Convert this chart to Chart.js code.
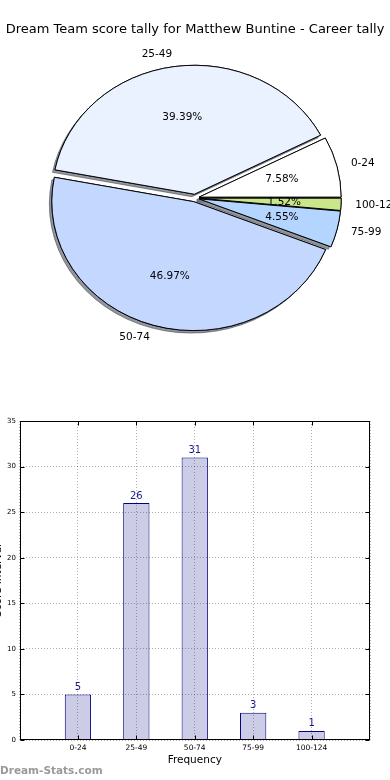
<!DOCTYPE html>
<html><head><meta charset="utf-8">
<script src="https://cdn.jsdelivr.net/npm/chart.js@4.4.1/dist/chart.umd.min.js"></script>
<style>
html,body{margin:0;padding:0;background:#fff;width:390px;height:780px;overflow:hidden;}
body{position:relative;}
#pieWrap{position:absolute;left:0;top:0;width:390px;height:395px;}
#barWrap{position:absolute;left:-10px;top:400px;width:400px;height:380px;}
#wm{position:absolute;left:0;top:764px;font:bold 10.5px 'DejaVu Sans',sans-serif;line-height:12px;color:#9a9a9a;white-space:nowrap;}
</style></head><body>
<div id="pieWrap"><canvas id="pie" width="390" height="395"></canvas></div>
<div id="barWrap"><canvas id="bar" width="400" height="380"></canvas></div>
<div id="wm">Dream-Stats.com</div>
<script>
// ---- data ----
const titleText = 'Dream Team score tally for Matthew Buntine - Career tally';
const categories = ['0-24', '25-49', '50-74', '75-99', '100-124'];
const counts = [5, 26, 31, 3, 1];
const pieColors = ['#ffffff', '#ebf2ff', '#c4d8ff', '#b4d5ff', '#c9e68a'];
const explodePx = [4.2, 4.2, 4.2, 4.2, 4.2];
const yTicks = [0, 5, 10, 15, 20, 25, 30, 35];
const xAxisTitle = 'Frequency';
const yAxisTitle = 'Score Interval';

const total = counts.reduce((a, b) => a + b, 0);
const pctLabels = counts.map(v => (v / total * 100).toFixed(2) + '%');

// ---- pie (elliptical, exploded, shadowed, like the reference) ----
const K = 0.908;               // vertical squash of the pie
const order = [4, 3, 2, 1, 0]; // clockwise from 3 o'clock
const FONT = '"DejaVu Sans", sans-serif';

const piePlugin = {
  id: 'pieDraw',
  beforeDatasetsDraw(chart) {
    const ctx = chart.ctx;
    const arcs = chart.getDatasetMeta(0).data;
    const pass = (shadow) => {
      arcs.forEach((arc, i) => {
        const d = explodePx[order[i]];
        const mid = (arc.startAngle + arc.endAngle) / 2;
        ctx.save();
        if (shadow) {
          ctx.shadowColor = 'rgba(40,45,60,0.5)';
          ctx.shadowOffsetX = -2.5;
          ctx.shadowOffsetY = 2.5;
          ctx.shadowBlur = 0;
        }
        ctx.translate(arc.x, arc.y);
        ctx.scale(1, K);
        ctx.translate(-arc.x, -arc.y);
        ctx.translate(Math.cos(mid) * d, Math.sin(mid) * d);
        arc.draw(ctx);
        ctx.restore();
      });
    };
    pass(true);
    pass(false);
    return false;
  },
  afterDraw(chart) {
    const ctx = chart.ctx;
    const arcs = chart.getDatasetMeta(0).data;
    ctx.save();
    ctx.fillStyle = '#000';
    ctx.font = '10.5px ' + FONT;
    ctx.textBaseline = 'middle';
    arcs.forEach((arc, i) => {
      const src = order[i];
      const d = explodePx[src];
      const mid = (arc.startAngle + arc.endAngle) / 2;
      const r = arc.outerRadius;
      const c = Math.cos(mid), s = Math.sin(mid);
      ctx.textAlign = c > 0 ? 'left' : 'right';
      ctx.fillText(categories[src], arc.x + (d + 1.1 * r) * c, arc.y + K * (d + 1.1 * r) * s);
      ctx.textAlign = 'center';
      ctx.fillText(pctLabels[src], arc.x + (d + 0.6 * r) * c, arc.y + K * (d + 0.6 * r) * s);
    });
    ctx.font = '13px ' + FONT;
    ctx.textAlign = 'center';
    ctx.fillText(titleText, 195, 30);
    ctx.restore();
  }
};

new Chart(document.getElementById('pie'), {
  type: 'pie',
  data: {
    labels: order.map(i => categories[i]),
    datasets: [{
      data: order.map(i => counts[i]),
      backgroundColor: order.map(i => pieColors[i]),
      borderColor: '#000',
      borderWidth: 1
    }]
  },
  options: {
    responsive: false,
    animation: false,
    rotation: 90,
    radius: 142,
    layout: { padding: { left: 0, right: 0, top: 1, bottom: 0 } },
    plugins: { legend: { display: false }, tooltip: { enabled: false }, title: { display: false } }
  },
  plugins: [piePlugin]
});

// ---- bar chart ----
const barLabels = [''].concat(categories, ['']);
const barValues = [null].concat(counts, [null]);

const barPlugin = {
  id: 'barExtras',
  afterDatasetsDraw(chart) {
    const ctx = chart.ctx;
    const meta = chart.getDatasetMeta(0);
    ctx.save();
    ctx.fillStyle = '#1a1a8c';
    ctx.font = '10px ' + FONT;
    ctx.textAlign = 'center';
    ctx.textBaseline = 'bottom';
    meta.data.forEach((bar, i) => {
      const v = barValues[i];
      if (v === null) return;
      ctx.fillText(String(v), bar.x, bar.y - 2);
    });
    ctx.restore();
  },
  afterDraw(chart) {
    const ctx = chart.ctx;
    const a = chart.chartArea;
    const xs = chart.scales.x, ys = chart.scales.y;
    ctx.save();
    ctx.strokeStyle = '#000';
    ctx.lineWidth = 1;
    const L = Math.round(a.left) + 0.5, R = Math.round(a.right) - 0.5;
    const T = Math.round(a.top) + 0.5, B = Math.round(a.bottom) - 0.5;
    ctx.strokeRect(L, T, R - L, B - T);
    ctx.beginPath();
    yTicks.forEach(t => {
      const y = Math.round(ys.getPixelForValue(t)) + 0.5;
      ctx.moveTo(L, y); ctx.lineTo(L + 4, y);
      ctx.moveTo(R, y); ctx.lineTo(R - 4, y);
    });
    categories.forEach((c, i) => {
      const x = Math.round(xs.getPixelForValue(i + 1)) + 0.5;
      ctx.moveTo(x, B); ctx.lineTo(x, B - 4);
      ctx.moveTo(x, T); ctx.lineTo(x, T + 4);
    });
    ctx.stroke();
    ctx.restore();
  }
};

new Chart(document.getElementById('bar'), {
  type: 'bar',
  data: {
    labels: barLabels,
    datasets: [{
      data: barValues,
      backgroundColor: 'rgb(204,204,230)',
      borderColor: '#000080',
      borderWidth: 1,
      barPercentage: 0.45,
      categoryPercentage: 1
    }]
  },
  options: {
    responsive: false,
    animation: false,
    layout: { padding: { left: 0, right: 20, top: 21, bottom: 10 } },
    plugins: { legend: { display: false }, tooltip: { enabled: false } },
    scales: {
      x: {
        type: 'category',
        offset: false,
        grid: { offset: false, color: 'rgba(0,0,0,0.3)', lineWidth: 1, drawTicks: false, z: 1 },
        border: { display: false, dash: [1, 2] },
        ticks: { font: { family: FONT, size: 7.5 }, color: '#000', padding: 4, maxRotation: 0, autoSkip: false },
        title: { display: true, text: xAxisTitle, font: { family: FONT, size: 10.5 }, color: '#000', padding: { top: 0, bottom: 3 } },
        afterFit(scale) { scale.height = 30; }
      },
      y: {
        min: 0,
        max: 35,
        ticks: { stepSize: 5, font: { family: FONT, size: 7 }, color: '#000', padding: 3.5 },
        grid: { color: 'rgba(0,0,0,0.3)', lineWidth: 1, drawTicks: false, z: 1 },
        border: { display: false, dash: [1, 2] },
        title: { display: true, text: yAxisTitle, font: { family: FONT, size: 10.5 }, color: '#000', padding: { top: 2, bottom: 0 } },
        afterFit(scale) { scale.width = 29.5; }
      }
    }
  },
  plugins: [barPlugin]
});
</script>
</body></html>
